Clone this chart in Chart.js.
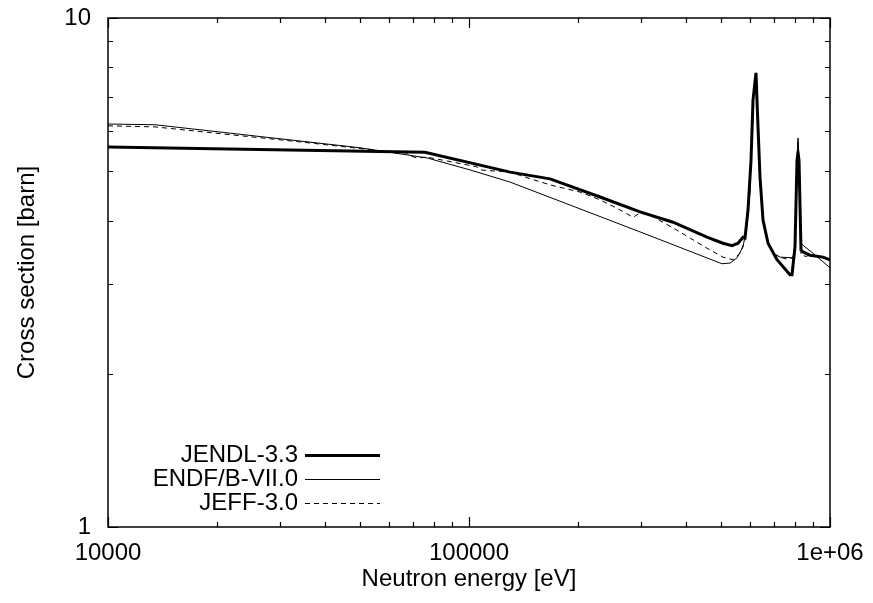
<!DOCTYPE html>
<html>
<head>
<meta charset="utf-8">
<script src="https://cdn.jsdelivr.net/npm/chart.js@4/dist/chart.umd.min.js"></script>
<style>
html,body{margin:0;padding:0;background:#fff;}
#wrap{width:873px;height:603px;position:relative;}
</style>
</head>
<body>
<div id="wrap"><canvas id="c" width="873" height="603"></canvas></div>
<script>
// Series data: [energy eV, cross section barn]
const jendlE = [10000,75500,130000,167700,230700,297700,367400,456300,505300,535300,556300,574200,581600,592800,604300,612000,623700,631800,639900,652300,673500,713300,774800,784800,799900,810200,815400,820600,831200,841900,880000,956400,1000000];
const jendlS = [5.58,5.45,4.98,4.83,4.45,4.16,3.97,3.71,3.61,3.57,3.61,3.71,3.70,4.20,5.26,6.90,7.80,6.11,4.87,4.01,3.61,3.35,3.13,3.13,3.55,5.26,5.43,5.26,3.50,3.47,3.42,3.39,3.35];

const endfE = [10000,13500,49900,76500,100600,130000,297700,502000,528500,552700,574200,589000,600400,604300,612000,623700,631800,639900,652300,669200,695300,727100,789800,799900,810200,815400,820600,828000,840000,897400,1000000];
const endfS = [6.19,6.17,5.56,5.31,5.03,4.76,3.80,3.29,3.30,3.38,3.55,3.92,4.59,5.26,6.90,7.80,6.11,4.87,4.01,3.66,3.45,3.39,3.38,3.55,5.26,5.81,5.26,3.63,3.58,3.45,3.23];

const jeffE = [10000,13500,34000,61600,67300,68700,71800,76500,90300,105200,107300,130000,142900,167700,203000,220600,230700,257000,284700,297700,317200,367400,456300,505300,538700,563400,581600,592800,600400,604300,612000,623700,631800,639900,652300,669200,695300,727100,760000,789800,799900,810200,815400,820600,831200,860000,880000,900000,930000,950000,1000000];
const jeffS = [6.14,6.11,5.71,5.45,5.43,5.36,5.31,5.33,5.21,5.10,5.03,4.98,4.87,4.70,4.55,4.45,4.39,4.23,4.06,4.14,4.10,3.87,3.53,3.39,3.35,3.45,3.66,4.20,4.59,5.26,6.90,7.80,6.11,4.87,4.01,3.66,3.45,3.39,3.36,3.38,3.55,5.26,5.70,5.26,3.42,3.40,3.43,3.40,3.42,3.38,3.35];

const seriesLabels = ['JENDL-3.3','ENDF/B-VII.0','JEFF-3.0'];
const xMin = 10000, xMax = 1000000, yMin = 1, yMax = 10;
const xTitle = 'Neutron energy [eV]';
const yTitle = 'Cross section [barn]';

function pts(E,S){ return E.map((e,i)=>({x:e,y:S[i]})); }
const FONT = 'Liberation Sans, Arial, Helvetica, sans-serif';

function isPow10(v){ const l=Math.log10(v); return Math.abs(l-Math.round(l))<1e-9; }
function fmtX(v){ if(!isPow10(v)) return ''; if(v>=1e6){ return '1e+0'+Math.round(Math.log10(v)); } return String(Math.round(v)); }
function fmtY(v){ if(!isPow10(v)) return ''; return String(Math.round(v)); }

const target = {left:108, top:18, right:830, bottom:527};
const geo = {yWidth:108, xHeight:76, padTop:18, padRight:43};

const frame = {
  id:'frame',
  afterDatasetsDraw(chart){
    const ctx=chart.ctx, a=chart.chartArea, xs=chart.scales.x, ys=chart.scales.y;
    ctx.save();
    ctx.strokeStyle='#000'; ctx.lineWidth=1.5;
    ctx.strokeRect(a.left,a.top,a.right-a.left,a.bottom-a.top);
    ctx.lineWidth=1.2;
    ctx.beginPath();
    for(let d=Math.log10(xs.min); d<Math.log10(xs.max)+1e-9; d++){
      for(let k=1;k<=9;k++){
        const v=k*Math.pow(10,d); if(v>xs.max*1.0000001) break;
        const px=Math.round(xs.getPixelForValue(v))+0.5;
        const len=(k===1)?10:5;
        ctx.moveTo(px,a.bottom); ctx.lineTo(px,a.bottom-len);
        ctx.moveTo(px,a.top); ctx.lineTo(px,a.top+len);
      }
    }
    for(let d=Math.log10(ys.min); d<Math.log10(ys.max)+1e-9; d++){
      for(let k=1;k<=9;k++){
        const v=k*Math.pow(10,d); if(v>ys.max*1.0000001) break;
        const py=Math.round(ys.getPixelForValue(v))+0.5;
        const len=(k===1)?10:5;
        ctx.moveTo(a.left,py); ctx.lineTo(a.left+len,py);
        ctx.moveTo(a.right,py); ctx.lineTo(a.right-len,py);
      }
    }
    ctx.stroke();
    // legend
    ctx.font='24px '+FONT; ctx.fillStyle='#000';
    ctx.textAlign='right'; ctx.textBaseline='middle';
    chart.data.datasets.forEach((ds,i)=>{
      const y=a.bottom-72+i*24;
      ctx.fillText(ds.label,a.left+190,y);
      ctx.save();
      ctx.lineWidth=ds.borderWidth; ctx.setLineDash(ds.borderDash||[]);
      ctx.strokeStyle=ds.borderColor;
      ctx.beginPath(); ctx.moveTo(a.left+197,y+0.5); ctx.lineTo(a.left+272,y+0.5); ctx.stroke();
      ctx.restore();
    });
    ctx.restore();
  }
};

function makeConfig(){
  return {
  type:'line',
  data:{datasets:[
    {label:seriesLabels[0],data:pts(jendlE,jendlS),borderColor:'#000',borderWidth:3,pointRadius:0,tension:0,fill:false},
    {label:seriesLabels[1],data:pts(endfE,endfS),borderColor:'#000',borderWidth:1,pointRadius:0,tension:0,fill:false},
    {label:seriesLabels[2],data:pts(jeffE,jeffS),borderColor:'#000',borderWidth:1,borderDash:[5,4],pointRadius:0,tension:0,fill:false}
  ]},
  plugins:[frame],
  options:{
    responsive:false, animation:false, devicePixelRatio:1,
    layout:{padding:{top:geo.padTop,right:geo.padRight,left:0,bottom:0}},
    plugins:{legend:{display:false},tooltip:{enabled:false}},
    scales:{
      x:{type:'logarithmic',min:xMin,max:xMax,
        afterFit(s){s.height=geo.xHeight; s.paddingRight=0; s.paddingLeft=0;},
        grid:{display:false,drawTicks:false},border:{display:false},
        ticks:{autoSkip:false,maxRotation:0,padding:12,color:'#000',font:{family:FONT,size:24},callback:(v)=>fmtX(v)},
        title:{display:true,text:xTitle,color:'#000',font:{family:FONT,size:24},padding:{top:0,bottom:9}}
      },
      y:{type:'logarithmic',min:yMin,max:yMax,
        afterFit(s){s.width=geo.yWidth; s.paddingTop=0; s.paddingBottom=0;},
        grid:{display:true,drawOnChartArea:false,drawTicks:true,tickLength:17,tickColor:'rgba(0,0,0,0)',color:'rgba(0,0,0,0)'},border:{display:false},
        ticks:{autoSkip:false,padding:0,color:'#000',font:{family:FONT,size:24},callback:(v)=>fmtY(v)},
        title:{display:true,text:yTitle,color:'#000',font:{family:FONT,size:24},padding:{top:13,bottom:0}}
      }
    }
  }};
}

const canvas=document.getElementById('c');
let chart = new Chart(canvas, makeConfig());
// nudge layout so the plot area lands on the target rectangle
for(let it=0; it<4; it++){
  const a=chart.chartArea;
  const dl=target.left-a.left, dt=target.top-a.top, dr=a.right-target.right, db=a.bottom-target.bottom;
  if(Math.abs(dl)<0.3&&Math.abs(dt)<0.3&&Math.abs(dr)<0.3&&Math.abs(db)<0.3) break;
  geo.yWidth+=dl; geo.xHeight+=db;
  geo.padTop=Math.max(0,geo.padTop+dt); geo.padRight=Math.max(0,geo.padRight+dr);
  chart.destroy();
  chart = new Chart(canvas, makeConfig());
}
</script>
</body>
</html>
